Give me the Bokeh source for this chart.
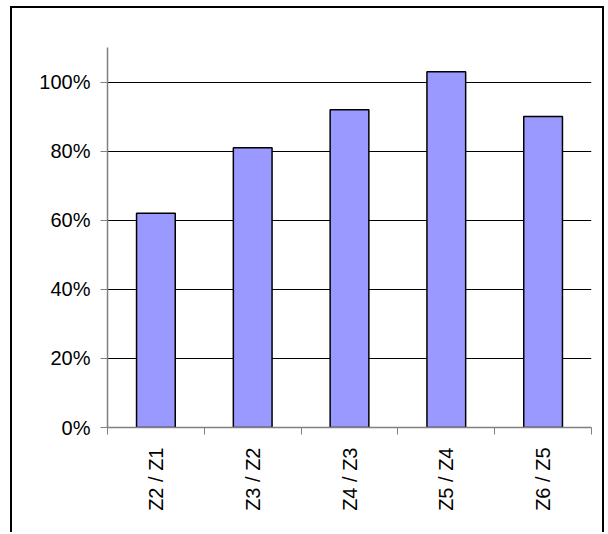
import math
from bokeh.plotting import figure
from bokeh.models import FixedTicker, Range1d, NumeralTickFormatter
from bokeh.embed import file_html
from bokeh.resources import INLINE

categories = ["Z2 / Z1", "Z3 / Z2", "Z4 / Z3", "Z5 / Z4", "Z6 / Z5"]
ratios = [0.62, 0.81, 0.92, 1.03, 0.90]
y_ticks = [0.0, 0.2, 0.4, 0.6, 0.8, 1.0]

n = len(categories)
centers = [i + 0.5 for i in range(n)]

p = figure(width=594, height=526, output_backend="svg", toolbar_location=None,
           x_range=Range1d(0, n), y_range=Range1d(0, 1.1),
           min_border_left=95, min_border_right=15, min_border_top=39, min_border_bottom=107)
p.styles = {"margin-left": "10px", "margin-top": "6px",
            "border-left": "2px solid black", "border-top": "2px solid black",
            "border-right": "2px solid black"}
p.background_fill_color = "white"
p.border_fill_color = "white"
p.outline_line_color = None

p.vbar(x=centers, top=ratios, width=0.4, bottom=0,
       fill_color="#9999FF", line_color="black", line_width=1.5)

font = "Liberation Sans"
# y axis
p.yaxis.ticker = FixedTicker(ticks=y_ticks)
p.yaxis.formatter = NumeralTickFormatter(format="0%")
p.yaxis.axis_line_color = "#808080"
p.yaxis.axis_line_width = 1.5
p.yaxis.major_tick_line_color = "#808080"
p.yaxis.major_tick_in = 0
p.yaxis.major_tick_out = 7
p.yaxis.minor_tick_line_color = None
p.yaxis.major_label_text_font = font
p.yaxis.major_label_text_font_size = "20px"
p.yaxis.major_label_text_color = "black"
p.yaxis.major_label_standoff = 10

# x axis
p.xaxis.ticker = FixedTicker(ticks=centers, minor_ticks=list(range(n + 1)))
p.xaxis.major_label_overrides = {c: lab for c, lab in zip(centers, categories)}
p.xaxis.major_label_orientation = math.pi / 2
p.xaxis.axis_line_color = "#808080"
p.xaxis.axis_line_width = 1.5
p.xaxis.major_tick_line_color = None
p.xaxis.minor_tick_line_color = "#808080"
p.xaxis.minor_tick_in = 0
p.xaxis.minor_tick_out = 7
p.xaxis.major_label_text_font = font
p.xaxis.major_label_text_font_size = "20px"
p.xaxis.major_label_text_color = "black"
p.xaxis.major_label_standoff = 13

p.ygrid.ticker = FixedTicker(ticks=y_ticks)
p.ygrid.grid_line_color = "black"
p.ygrid.grid_line_width = 1
p.xgrid.grid_line_color = None

open("out.html", "w").write(file_html(p, INLINE))
